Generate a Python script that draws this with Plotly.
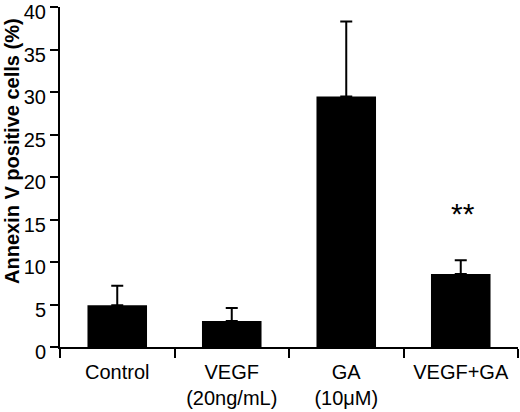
import plotly.graph_objects as go

# Annexin V positive cells (%), mean and upper error
groups = ["Control", "VEGF<br>(20ng/mL)", "GA<br>(10μM)", "VEGF+GA"]
means = [4.9, 3.05, 29.5, 8.6]
errors = [2.3, 1.55, 8.8, 1.6]
marks = ["", "", "", "**"]
mark_y = [0, 0, 0, 16.2]
ytick_vals = [0, 5, 10, 15, 20, 25, 30, 35, 40]

font = "Liberation Sans, Arial, sans-serif"
W, H = 520, 412
L, R, T, B = 60, 2, 7, 65

fig = go.Figure()
fig.add_trace(go.Bar(
    x=groups, y=means, width=0.52,
    marker=dict(color="black", line=dict(width=0)),
    error_y=dict(type="data", array=errors, symmetric=False,
                 arrayminus=[0] * len(errors),
                 color="black", thickness=2, width=6),
))

for g, m, yy in zip(groups, marks, mark_y):
    if m:
        fig.add_annotation(x=g, y=yy, text=m, showarrow=False,
                           font=dict(size=30, color="black", family=font),
                           yanchor="middle", yshift=-4, xshift=2)

# y title placed by pixel position (converted to paper coords)
pw, ph = W - L - R, H - T - B
fig.add_annotation(x=(12 - L) / pw, y=(H - B - 151) / ph,
                   xref="paper", yref="paper", xanchor="center",
                   yanchor="middle",
                   text="<b>Annexin V positive cells (%)</b>", textangle=-90,
                   showarrow=False,
                   font=dict(size=20, color="black", family=font))

fig.update_layout(
    width=W, height=H,
    margin=dict(l=L, r=R, t=T, b=B),
    plot_bgcolor="white", paper_bgcolor="white",
    showlegend=False,
    font=dict(family=font, size=20, color="black"),
)
fig.update_xaxes(range=[-0.5, 3.5], showline=True, linecolor="black",
                 linewidth=2, ticks="outside", tickson="boundaries",
                 ticklen=9, tickwidth=2, tickcolor="black", showgrid=False,
                 tickfont=dict(size=20), automargin=False,
                 ticklabelstandoff=6, ticklabeloverflow="allow")
fig.update_yaxes(range=[0, 40.02], tickvals=ytick_vals, showline=True,
                 linecolor="black", linewidth=2, ticks="outside", ticklen=8,
                 tickwidth=2, tickcolor="black", showgrid=False,
                 zeroline=False, tickfont=dict(size=20), automargin=False,
                 ticklabelshift=5, ticklabeloverflow="allow")

fig.write_html("out.html", config={"displayModeBar": False},
               post_script="document.body.style.margin='0';")
